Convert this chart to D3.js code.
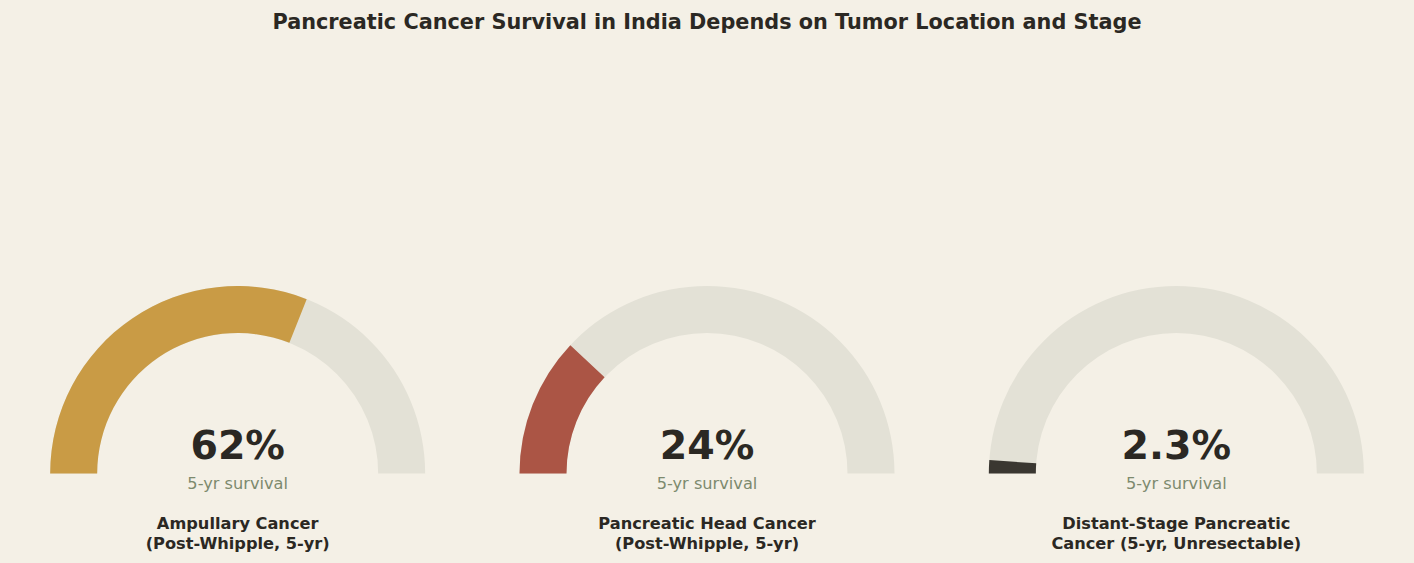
<!DOCTYPE html>
<html>
<head>
<meta charset="utf-8">
<script src="https://cdn.jsdelivr.net/npm/d3@7"></script>
<style>
  body { margin: 0; background: #f4f0e6; }
  text { font-family: "DejaVu Sans", sans-serif; }
</style>
</head>
<body>
<div id="chart"></div>
<script>
var w = 1414;
var h = 563;

// data
const labels = [
    ["Ampullary Cancer", "(Post-Whipple, 5-yr)"],
    ["Pancreatic Head Cancer", "(Post-Whipple, 5-yr)"],
    ["Distant-Stage Pancreatic", "Cancer (5-yr, Unresectable)"]
];
const values = [62, 24, 2.3];
const valueText = ["62%", "24%", "2.3%"];
const colors = ["#c99b45", "#ab5545", "#3a3731"];

const svg = d3.select("#chart")
    .append("svg")
    .attr("width", w)
    .attr("height", h);

svg.append("rect")
    .attr("width", w)
    .attr("height", h)
    .attr("fill", "#f4f0e6");

// title
svg.append("text")
    .attr("x", w / 2)
    .attr("y", 29)
    .attr("text-anchor", "middle")
    .style("font-size", "20.8px")
    .style("font-weight", "bold")
    .style("fill", "#2b2823")
    .text("Pancreatic Cancer Survival in India Depends on Tumor Location and Stage");

// gauge placement
const xScale = d3.scaleBand()
    .domain(d3.range(values.length))
    .range([3, 1411]);

const angle = d3.scaleLinear()
    .domain([0, 100])
    .range([-Math.PI / 2, Math.PI / 2]);

const cy = 473.5;
const arc = d3.arc()
    .innerRadius(140.5)
    .outerRadius(187.5);

const gauges = svg.selectAll("g.gauge")
    .data(values)
    .enter()
    .append("g")
    .attr("class", "gauge")
    .attr("transform", (d, i) => "translate(" + (xScale(i) + xScale.bandwidth() / 2) + "," + cy + ")");

// track
gauges.append("path")
    .attr("d", arc({startAngle: angle(0), endAngle: angle(100)}))
    .attr("fill", "#e3e1d6");

// value
gauges.append("path")
    .attr("d", d => arc({startAngle: angle(0), endAngle: angle(d)}))
    .attr("fill", (d, i) => colors[i]);

gauges.append("text")
    .attr("y", -15)
    .attr("text-anchor", "middle")
    .style("font-size", "39.5px")
    .style("font-weight", "bold")
    .style("fill", "#2b2823")
    .text((d, i) => valueText[i]);

gauges.append("text")
    .attr("y", 15)
    .attr("text-anchor", "middle")
    .style("font-size", "16.2px")
    .style("fill", "#7d8a6e")
    .text("5-yr survival");

gauges.each(function(d, i) {
    const g = d3.select(this);
    labels[i].forEach(function(line, j) {
        g.append("text")
            .attr("y", 55 + j * 20)
            .attr("text-anchor", "middle")
            .style("font-size", "16.2px")
            .style("font-weight", "bold")
            .style("fill", "#2b2823")
            .text(line);
    });
});
</script>
</body>
</html>
